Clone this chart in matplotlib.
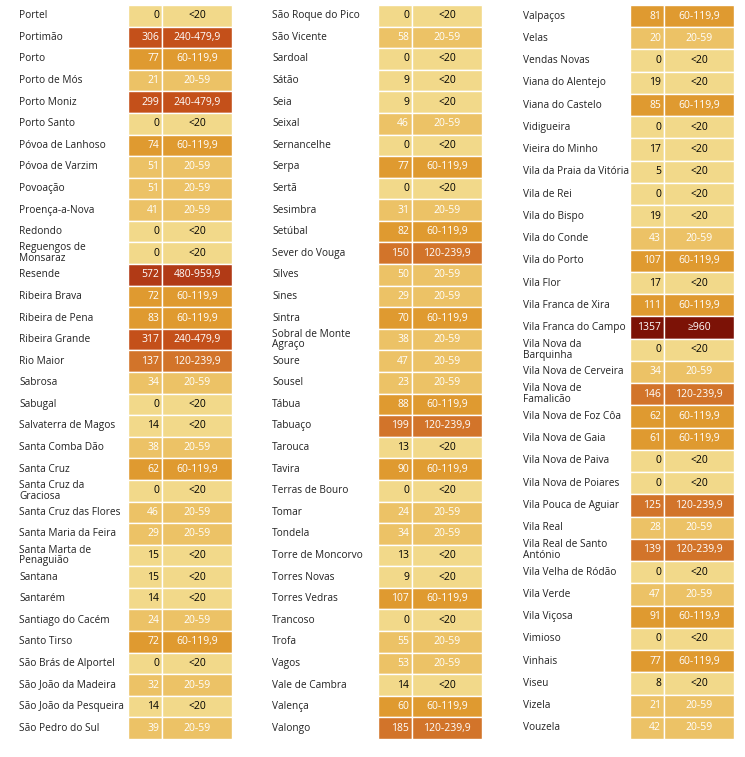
import matplotlib.pyplot as plt
from matplotlib.patches import Rectangle

col1_names = ["Portel", "Portimão", "Porto", "Porto de Mós", "Porto Moniz", "Porto Santo",
              "Póvoa de Lanhoso", "Póvoa de Varzim", "Povoação", "Proença-a-Nova", "Redondo",
              "Reguengos de\nMonsaraz", "Resende", "Ribeira Brava", "Ribeira de Pena",
              "Ribeira Grande", "Rio Maior", "Sabrosa", "Sabugal", "Salvaterra de Magos",
              "Santa Comba Dão", "Santa Cruz", "Santa Cruz da\nGraciosa", "Santa Cruz das Flores",
              "Santa Maria da Feira", "Santa Marta de\nPenaguião", "Santana", "Santarém",
              "Santiago do Cacém", "Santo Tirso", "São Brás de Alportel", "São João da Madeira",
              "São João da Pesqueira", "São Pedro do Sul"]
col1_values = [0, 306, 77, 21, 299, 0, 74, 51, 51, 41, 0, 0, 572, 72, 83, 317, 137, 34, 0, 14,
               38, 62, 0, 46, 29, 15, 15, 14, 24, 72, 0, 32, 14, 39]

col2_names = ["São Roque do Pico", "São Vicente", "Sardoal", "Sátão", "Seia", "Seixal",
              "Sernancelhe", "Serpa", "Sertã", "Sesimbra", "Setúbal", "Sever do Vouga", "Silves",
              "Sines", "Sintra", "Sobral de Monte\nAgraço", "Soure", "Sousel", "Tábua", "Tabuaço",
              "Tarouca", "Tavira", "Terras de Bouro", "Tomar", "Tondela", "Torre de Moncorvo",
              "Torres Novas", "Torres Vedras", "Trancoso", "Trofa", "Vagos", "Vale de Cambra",
              "Valença", "Valongo"]
col2_values = [0, 58, 0, 9, 9, 46, 0, 77, 0, 31, 82, 150, 50, 29, 70, 38, 47, 23, 88, 199,
               13, 90, 0, 24, 34, 13, 9, 107, 0, 55, 53, 14, 60, 185]

col3_names = ["Valpaços", "Velas", "Vendas Novas", "Viana do Alentejo", "Viana do Castelo",
              "Vidigueira", "Vieira do Minho", "Vila da Praia da Vitória", "Vila de Rei",
              "Vila do Bispo", "Vila do Conde", "Vila do Porto", "Vila Flor", "Vila Franca de Xira",
              "Vila Franca do Campo", "Vila Nova da\nBarquinha", "Vila Nova de Cerveira",
              "Vila Nova de\nFamalicão", "Vila Nova de Foz Côa", "Vila Nova de Gaia",
              "Vila Nova de Paiva", "Vila Nova de Poiares", "Vila Pouca de Aguiar", "Vila Real",
              "Vila Real de Santo\nAntónio", "Vila Velha de Ródão", "Vila Verde", "Vila Viçosa",
              "Vimioso", "Vinhais", "Viseu", "Vizela", "Vouzela"]
col3_values = [81, 20, 0, 19, 85, 0, 17, 5, 0, 19, 43, 107, 17, 111, 1357, 0, 34, 146, 62, 61,
               0, 0, 125, 28, 139, 0, 47, 91, 0, 77, 8, 21, 42]

bin_edges = [20, 60, 120, 240, 480, 960]
bin_labels = ["<20", "20-59", "60-119,9", "120-239,9", "240-479,9", "480-959,9", "≥960"]
bin_colors = ["#f2d98a", "#ecc266", "#df9a30", "#d2742a", "#c4501a", "#b13a16", "#7c1206"]


def category(v):
    for i, edge in enumerate(bin_edges):
        if v < edge:
            return i
    return len(bin_edges)


plt.rcParams['font.family'] = ['Open Sans', 'DejaVu Sans']
fig = plt.figure(figsize=(7.45, 7.57), dpi=100)
ax = fig.add_axes([0, 0, 1, 1])
ax.set_xlim(0, 745)
ax.set_ylim(757, 0)
ax.axis("off")

columns = [(col1_names, col1_values, 19, 128), (col2_names, col2_values, 272, 378),
           (col3_names, col3_values, 523, 630)]
top, bottom = 5, 739
for names, values, x_name, x_val in columns:
    h = (bottom - top) / len(names)
    for i, (name, v) in enumerate(zip(names, values)):
        y = top + i * h
        c = category(v)
        ax.add_patch(Rectangle((x_val, y), 34, h, facecolor=bin_colors[c], edgecolor="white", lw=1))
        ax.add_patch(Rectangle((x_val + 34, y), 70, h, facecolor=bin_colors[c], edgecolor="white", lw=1))
        tc = "black" if c == 0 else "white"
        ax.text(x_name, y + h / 2, name, ha="left", va="center", fontsize=7.3,
                linespacing=0.95, color="#222222")
        ax.text(x_val + 31, y + h / 2, str(v), ha="right", va="center", fontsize=7.5, color=tc)
        ax.text(x_val + 69, y + h / 2, bin_labels[c], ha="center", va="center", fontsize=7.5, color=tc)

fig.savefig("out.png", dpi=100)
